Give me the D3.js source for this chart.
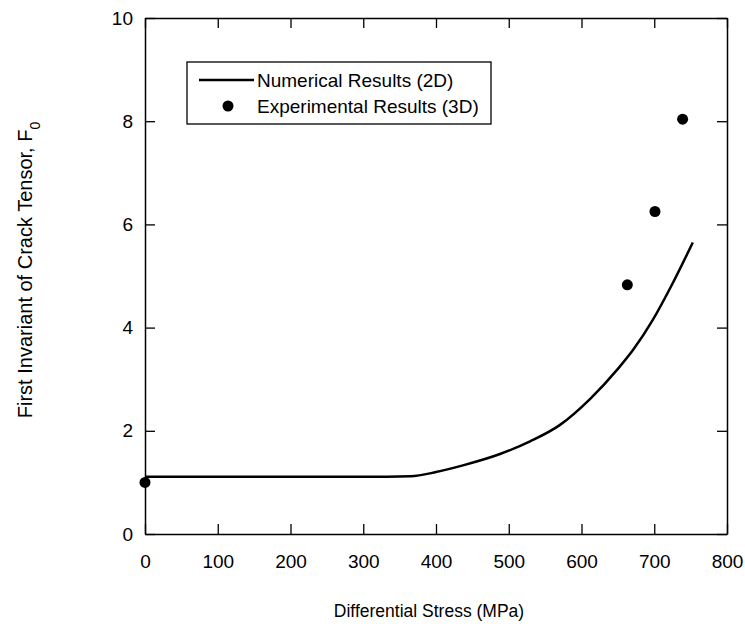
<!DOCTYPE html>
<html lang="en">
<head>
  <meta charset="utf-8"/>
  <title>Crack tensor invariant</title>
  <script src="https://d3js.org/d3.v7.min.js"></script>
  <style>
    body { margin: 0; background: #fff; }
    svg text { font-family: "Liberation Sans", Arial, sans-serif; fill: #000; }
  </style>
</head>
<body>
<svg id="chart" width="745" height="624"></svg>
<script>
// numerical results (2D): differential stress (MPa) vs F0
const numStress = [0, 100, 200, 300, 365, 400, 437, 488, 530, 570, 612, 650, 671, 698, 725, 753];
const numF0     = [1.11, 1.11, 1.11, 1.11, 1.12, 1.2, 1.33, 1.55, 1.8, 2.11, 2.62, 3.2, 3.57, 4.15, 4.85, 5.65];
// experimental results (3D)
const expStress = [0, 663, 701, 739];
const expF0     = [1.0, 4.83, 6.25, 8.04];
const xTicks = [0, 100, 200, 300, 400, 500, 600, 700, 800];
const yTicks = [0, 2, 4, 6, 8, 10];
const legendLabels = ["Numerical Results (2D)", "Experimental Results (3D)"];

const svg = d3.select("#chart");
const margin = {left: 145, top: 18, right: 18, bottom: 90};
const width = 745 - margin.left - margin.right;
const height = 624 - margin.top - margin.bottom;
const g = svg.append("g").attr("transform", "translate(" + margin.left + "," + margin.top + ")");

const x = d3.scaleLinear().domain([0, 800]).range([0, width]);
const y = d3.scaleLinear().domain([0, 10]).range([height, 0]);

// axes, ticks pointing inward on all four sides
g.append("g").attr("transform", "translate(0," + height + ")")
  .call(d3.axisBottom(x).tickValues(xTicks).tickSize(-10).tickSizeOuter(0).tickPadding(21));
g.append("g")
  .call(d3.axisLeft(y).tickValues(yTicks).tickSize(-10).tickSizeOuter(0).tickPadding(12));
g.append("g").call(d3.axisTop(x).tickValues(xTicks).tickSize(-10).tickSizeOuter(0).tickFormat(""));
g.append("g").attr("transform", "translate(" + width + ",0)")
  .call(d3.axisRight(y).tickValues(yTicks).tickSize(-10).tickSizeOuter(0).tickFormat(""));

g.selectAll(".domain").attr("stroke", "#000").attr("stroke-width", 1.5);
g.selectAll(".tick line").attr("stroke", "#000").attr("stroke-width", 1.3);
g.selectAll(".tick text").style("font-size", "19px").style("font-family", "Liberation Sans, Arial, sans-serif");

// numerical curve
const pts = numStress.map((s, i) => [s, numF0[i]]);
const line = d3.line().x(d => x(d[0])).y(d => y(d[1])).curve(d3.curveMonotoneX);
g.append("path").datum(pts)
  .attr("d", line)
  .attr("fill", "none")
  .attr("stroke", "#000")
  .attr("stroke-width", 2.5);

// experimental points
g.selectAll("circle.exp").data(expStress.map((s, i) => [s, expF0[i]]))
  .enter().append("circle")
  .attr("class", "exp")
  .attr("cx", d => x(d[0]))
  .attr("cy", d => y(d[1]))
  .attr("r", 5.5)
  .attr("fill", "#000");

// legend
const lg = svg.append("g").attr("transform", "translate(187,62)");
lg.append("rect").attr("width", 304).attr("height", 62)
  .attr("fill", "#fff").attr("stroke", "#000").attr("stroke-width", 1.3);
lg.append("line").attr("x1", 12).attr("x2", 67).attr("y1", 18).attr("y2", 18)
  .attr("stroke", "#000").attr("stroke-width", 2.5);
lg.append("circle").attr("cx", 41).attr("cy", 44).attr("r", 5.5).attr("fill", "#000");
lg.selectAll("text.leg").data(legendLabels).enter().append("text")
  .attr("class", "leg")
  .attr("x", 70)
  .attr("y", (d, i) => 18 + i * 26)
  .attr("dy", "0.35em")
  .style("font-size", "19px")
  .text(d => d);

// axis titles
svg.append("text")
  .attr("x", 429).attr("y", 617)
  .attr("text-anchor", "middle")
  .style("font-size", "17.5px")
  .text("Differential Stress (MPa)");

const yt = svg.append("text")
  .attr("transform", "translate(32,270) rotate(-90)")
  .attr("text-anchor", "middle")
  .style("font-size", "20px");
yt.append("tspan").text("First Invariant of Crack Tensor, F");
yt.append("tspan").attr("dy", 8).style("font-size", "14px").text("0");
</script>
</body>
</html>
